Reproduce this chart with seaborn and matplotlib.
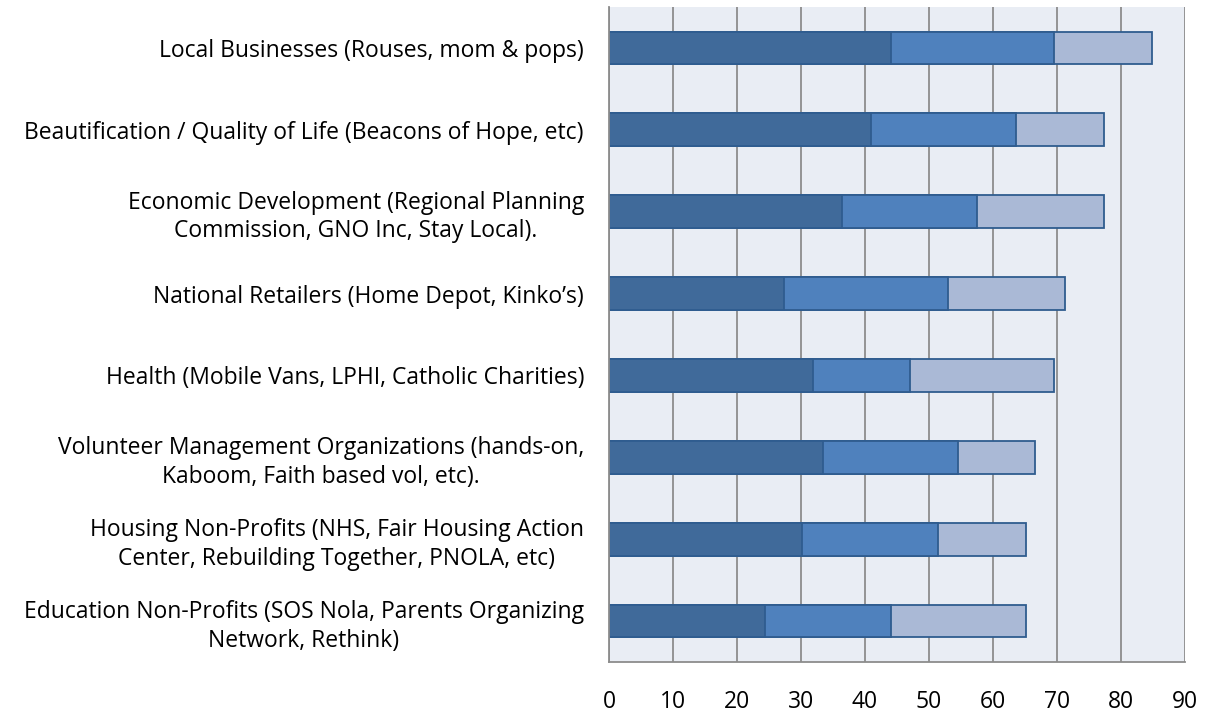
"""Stacked horizontal bars: partner types"""
import pandas as pd
import seaborn as sns
import matplotlib.pyplot as plt
import numpy as np

CATEGORIES = [
    "Local Businesses (Rouses, mom & pops)",
    "Beautification / Quality of Life (Beacons of Hope, etc)",
    "Economic Development (Regional Planning\nCommission, GNO Inc, Stay Local).",
    "National Retailers (Home Depot, Kinko\u2019s)",
    "Health (Mobile Vans, LPHI, Catholic Charities)",
    "Volunteer Management Organizations (hands-on,\nKaboom, Faith based vol, etc).",
    "Housing Non-Profits (NHS, Fair Housing Action\nCenter, Rebuilding Together, PNOLA, etc)",
    "Education Non-Profits (SOS Nola, Parents Organizing\nNetwork, Rethink)",
]
SERIES_1 = [44.0, 40.9, 36.4, 27.3, 31.8, 33.4, 30.2, 24.3]
SERIES_2 = [25.6, 22.7, 21.1, 25.6, 15.2, 21.1, 21.2, 19.7]
SERIES_3 = [15.2, 13.7, 19.8, 18.3, 22.6, 12.1, 13.7, 21.1]
X_TICKS = [0, 10, 20, 30, 40, 50, 60, 70, 80, 90]

df = pd.DataFrame({"cat": CATEGORIES, "s1": SERIES_1, "s2": SERIES_2, "s3": SERIES_3})
df["c2"] = df["s1"] + df["s2"]
df["c3"] = df["c2"] + df["s3"]

sns.set_style("white")
plt.rcParams["font.family"] = ["Open Sans", "DejaVu Sans"]

fig = plt.figure(figsize=(12.07, 7.19), dpi=100)
ax = fig.add_axes([609 / 1207, 1 - 662 / 719, 576 / 1207, 655 / 719])
ax.set_facecolor("#E9EDF4")

edge = "#2F5C8F"
# cumulative totals drawn back to front gives the stacked look
for col, color in [("c3", "#AAB9D6"), ("c2", "#4F81BD"), ("s1", "#406A9A")]:
    sns.barplot(data=df, x=col, y="cat", orient="h", color=color, width=0.4,
                edgecolor=edge, linewidth=1.3, saturation=1, ax=ax)

ax.set_xlim(0, 90)
ax.set_ylim(len(CATEGORIES) - 0.5, -0.5)
ax.set_xticks(X_TICKS)
ax.xaxis.grid(True, color="#8C8C8C", linewidth=1.3)
ax.set_axisbelow(True)
ax.set_xlabel("")
ax.set_ylabel("")
for side in ["top", "right"]:
    ax.spines[side].set_visible(False)
for side in ["left", "bottom"]:
    ax.spines[side].set_color("#8C8C8C")
    ax.spines[side].set_linewidth(1.3)

ax.set_yticks(np.arange(-0.5, len(CATEGORIES), 1.0), minor=True)
ax.tick_params(axis="y", which="major", length=0, pad=18, labelsize=16.5, labelcolor="black")
ax.tick_params(axis="y", which="minor", length=6, width=1.3, color="#8C8C8C", direction="out")
ax.tick_params(axis="x", length=6, width=1.3, color="#8C8C8C", direction="out", pad=14,
               labelsize=16.5, labelcolor="black")
for lbl in ax.get_yticklabels():
    lbl.set_multialignment("center")
    lbl.set_linespacing(1.25)

fig.savefig("out.png", dpi=100)
